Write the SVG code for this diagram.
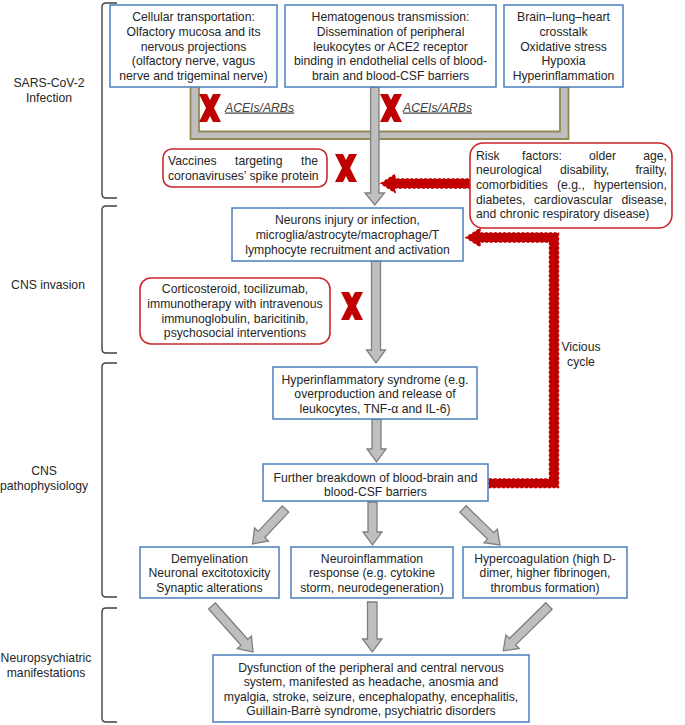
<svg xmlns="http://www.w3.org/2000/svg" width="685" height="725" viewBox="0 0 685 725">
<defs>
<style>
text{font-family:"Liberation Sans",Arial,sans-serif;font-size:12.2px;fill:#262626}
.c{text-anchor:middle}
.e{text-anchor:end}
.box{fill:#fff;stroke:#4a7ebb;stroke-width:1.5}
.rbox{fill:#fff;stroke:#c8282d;stroke-width:1.6}
.br{fill:none;stroke:#404040;stroke-width:1.4}
.ga{fill:#bfbfbf;stroke:#7f7f7f;stroke-width:1.3}
.ra{fill:#c00000;stroke:#c00000;stroke-width:1.4;stroke-dasharray:3 1.6}
.x{fill:#c00000}
.ace{font-style:italic;text-decoration:underline;fill:#404040}
</style>
<polygon id="xm" points="-11,-14 -3,-14 0,-8 3,-14 11,-14 4,0 11,14 3,14 0,8 -3,14 -11,14 -4,0"/>
</defs>

<g id="brackets">
<path class="br" d="M117,3 H106 Q102,3 102,7 V194 Q102,198 106,198 H117"/>
<path class="br" d="M117,206 H106 Q102,206 102,210 V349 Q102,353 106,353 H117"/>
<path class="br" d="M117,363 H106 Q102,363 102,367 V593 Q102,597 106,597 H117"/>
<path class="br" d="M117,608 H106 Q102,608 102,612 V718 Q102,722 106,722 H117"/>
</g>
<g id="stage-labels">
<text class="c" x="49" y="86.5">SARS-CoV-2</text>
<text class="c" x="49" y="101.5">Infection</text>
<text class="c" x="48" y="288.5">CNS invasion</text>
<text class="c" x="44" y="474.5">CNS</text>
<text class="c" x="44" y="489.5">pathophysiology</text>
<text class="c" x="46" y="661.5">Neuropsychiatric</text>
<text class="c" x="46" y="676.5">manifestations</text>
</g>

<g id="connectors">
<path d="M190.5,87 V139 H568.5 V87 H560 V131.5 H199 V87" fill="#bfbfbf" stroke="#948a54" stroke-width="1.8"/>
<path class="ga" d="M370.6,87 H379 V193 H384.5 L374.8,205 L365,193 H370.6 Z"/>
<path class="ga" d="M371.5,261 H380.5 V350 H385.5 L376,363 L366.5,350 H371.5 Z"/>
<path class="ga" d="M372,419 H381 V449 H386 L376.5,462 L367,449 H372 Z"/>
<path class="ga" d="M368,502 H377 V532 H382 L372.5,545 L363,532 H368 Z"/>
<path class="ga" d="M367.5,602 H377 V639 H382 L372.3,652 L362.5,639 H367.5 Z"/>
<path class="ga" transform="translate(285.5,509) rotate(43.3)" d="M-4.5,0 H4.5 V35 H9.5 L0,48 L-9.5,35 H-4.5 Z"/>
<path class="ga" transform="translate(463,509) rotate(-45.8)" d="M-4.5,0 H4.5 V38.6 H9.5 L0,51.6 L-9.5,38.6 H-4.5 Z"/>
<path class="ga" transform="translate(212,606) rotate(-41.7)" d="M-4.5,0 H4.5 V48.6 H9.5 L0,61.6 L-9.5,48.6 H-4.5 Z"/>
<path class="ga" transform="translate(549,606) rotate(45.6)" d="M-4.5,0 H4.5 V51 H9.5 L0,64 L-9.5,51 H-4.5 Z"/>
<path class="ra" d="M471,179 V188 H395 V192.5 L381,183.5 L395,174.5 V179 Z"/>
<path class="ra" d="M489,479 H549.5 V242 H480 V246.5 L466,237.5 L480,228.5 V233 H558.5 V487.5 H489 Z"/>
</g>

<g id="blockers">
<use href="#xm" class="x" x="210" y="108"/>
<use href="#xm" class="x" x="391" y="108"/>
<use href="#xm" class="x" x="346" y="168"/>
<use href="#xm" class="x" x="352" y="306"/>
<text class="ace" x="225" y="111.5">ACEIs/ARBs</text>
<text class="ace" x="403" y="111.5">ACEIs/ARBs</text>
<text x="581" y="351" class="c">Vicious</text>
<text x="581" y="365.5" class="c">cycle</text>
</g>

<g id="n-cellular">
<rect class="box" x="110" y="5" width="167" height="82"/>
<text class="c" x="193.5" y="21">Cellular transportation:</text>
<text class="c" x="193.5" y="35.8">Olfactory mucosa and its</text>
<text class="c" x="193.5" y="50.6">nervous projections</text>
<text class="c" x="193.5" y="65.4">(olfactory nerve, vagus</text>
<text class="c" x="193.5" y="80.2">nerve and trigeminal nerve)</text>
</g>
<g id="n-hematogenous">
<rect class="box" x="285" y="5" width="211" height="82"/>
<text class="c" x="390.5" y="21">Hematogenous transmission:</text>
<text class="c" x="390.5" y="35.8">Dissemination of peripheral</text>
<text class="c" x="390.5" y="50.6">leukocytes  or ACE2 receptor</text>
<text class="c" x="390.5" y="65.4">binding in endothelial cells of blood-</text>
<text class="c" x="390.5" y="80.2">brain and blood-CSF barriers</text>
</g>
<g id="n-crosstalk">
<rect class="box" x="504" y="5" width="119" height="82"/>
<text class="c" x="563.5" y="21">Brain–lung–heart</text>
<text class="c" x="563.5" y="35.8">crosstalk</text>
<text class="c" x="563.5" y="50.6">Oxidative stress</text>
<text class="c" x="563.5" y="65.4">Hypoxia</text>
<text class="c" x="563.5" y="80.2">Hyperinflammation</text>
</g>

<g id="n-vaccines">
<rect class="rbox" x="163" y="149" width="164" height="38" rx="9"/>
<text x="168" y="165">Vaccines</text>
<text x="235" y="165">targeting</text>
<text class="e" x="318" y="165">the</text>
<text x="168" y="179.5">coronaviruses’ spike protein</text>
</g>

<g id="n-risk">
<rect class="rbox" x="470" y="143" width="202" height="85" rx="13"/>
<text x="476" y="159.5">Risk</text>
<text x="522" y="159.5">factors:</text>
<text x="589" y="159.5">older</text>
<text class="e" x="667" y="159.5">age,</text>
<text x="476" y="174.2">neurological</text>
<text x="560" y="174.2">disability,</text>
<text class="e" x="667" y="174.2">frailty,</text>
<text x="476" y="188.9">comorbidities</text>
<text x="557" y="188.9">(e.g.,</text>
<text class="e" x="667" y="188.9">hypertension,</text>
<text x="476" y="203.6">diabetes,</text>
<text x="534" y="203.6">cardiovascular</text>
<text class="e" x="667" y="203.6">disease,</text>
<text x="476" y="218.3">and chronic respiratory disease)</text>
</g>

<g id="n-neurons">
<rect class="box" x="232" y="208" width="231" height="53"/>
<text class="c" x="347.5" y="224.4">Neurons injury or infection,</text>
<text class="c" x="347.5" y="239.2">microglia/astrocyte/macrophage/T</text>
<text class="c" x="347.5" y="254">lymphocyte  recruitment and activation</text>
</g>

<g id="n-treatment">
<rect class="rbox" x="140" y="278" width="190" height="66" rx="11"/>
<text class="c" x="235" y="293.4">Corticosteroid, tocilizumab,</text>
<text class="c" x="235" y="308">immunotherapy  with intravenous</text>
<text class="c" x="235" y="322.7">immunoglobulin,  baricitinib,</text>
<text class="c" x="235" y="337.4">psychosocial interventions</text>
</g>

<g id="n-hyperinflammatory">
<rect class="box" x="273" y="367" width="204" height="52"/>
<text class="c" x="375" y="383.5">Hyperinflammatory syndrome (e.g.</text>
<text class="c" x="375" y="398">overproduction  and release of</text>
<text class="c" x="375" y="412.5">leukocytes,  TNF-α and IL-6)</text>
</g>

<g id="n-breakdown">
<rect class="box" x="263" y="464" width="225" height="37"/>
<text class="c" x="375.5" y="481.5">Further  breakdown of blood-brain and</text>
<text class="c" x="375.5" y="495.8">blood-CSF barriers</text>
</g>

<g id="n-demyelination">
<rect class="box" x="140" y="547" width="139" height="51"/>
<text class="c" x="209.5" y="562.5">Demyelination</text>
<text class="c" x="209.5" y="577">Neuronal  excitotoxicity</text>
<text class="c" x="209.5" y="591.5">Synaptic alterations</text>
</g>
<g id="n-neuroinflammation">
<rect class="box" x="291" y="547" width="162" height="51"/>
<text class="c" x="372" y="562.5">Neuroinflammation</text>
<text class="c" x="372" y="577">response (e.g. cytokine</text>
<text class="c" x="372" y="591.5">storm, neurodegeneration)</text>
</g>
<g id="n-hypercoagulation">
<rect class="box" x="463" y="547" width="164" height="51"/>
<text class="c" x="545" y="562.5">Hypercoagulation  (high D-</text>
<text class="c" x="545" y="577">dimer, higher fibrinogen,</text>
<text class="c" x="545" y="591.5">thrombus  formation)</text>
</g>

<g id="n-dysfunction">
<rect class="box" x="213" y="655" width="316" height="67"/>
<text class="c" x="371" y="671.5">Dysfunction  of the peripheral and central  nervous</text>
<text class="c" x="371" y="686">system,  manifested as headache, anosmia and</text>
<text class="c" x="371" y="700.5">myalgia, stroke, seizure, encephalopathy,  encephalitis,</text>
<text class="c" x="371" y="715">Guillain-Barrè  syndrome,  psychiatric disorders</text>
</g>
</svg>
